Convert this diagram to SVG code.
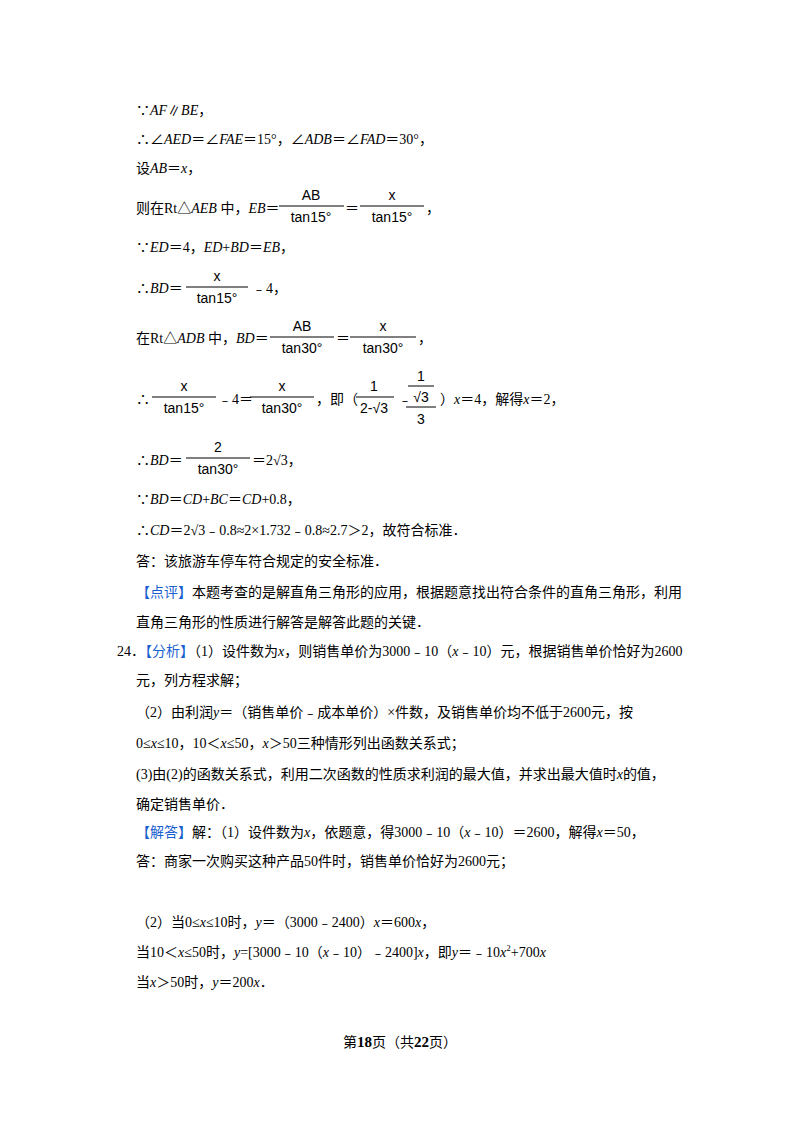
<svg xmlns="http://www.w3.org/2000/svg" width="800" height="1132" viewBox="0 0 800 1132">
<style>
text{font-family:"Liberation Serif","Noto Sans CJK SC",serif;font-size:14px;fill:#000}
.i{font-style:italic}
.b{fill:#1a5fd0}
.f{text-anchor:middle;font-family:"Liberation Sans",sans-serif;font-size:14px}
line{stroke:#000;stroke-width:1}
</style>
<rect width="800" height="1132" fill="#fff"/>
<g id="text">
<text x="136" y="115">∵<tspan class="i">AF</tspan>∥<tspan class="i">BE</tspan>，</text>
<text x="136" y="144">∴∠<tspan class="i">AED</tspan>＝∠<tspan class="i">FAE</tspan>＝15°，∠<tspan class="i">ADB</tspan>＝∠<tspan class="i">FAD</tspan>＝30°，</text>
<text x="136" y="173">设<tspan class="i">AB</tspan>＝<tspan class="i">x</tspan>，</text>
<text x="136" y="213">则在Rt△<tspan class="i">AEB</tspan> 中，<tspan class="i">EB</tspan>＝</text>
<text class="f" x="311" y="200">AB</text><line x1="279" y1="206" x2="344" y2="206"/><text class="f" x="311" y="222">tan15°</text>
<text x="345" y="213">＝</text>
<text class="f" x="392" y="200">x</text><line x1="360" y1="206" x2="424" y2="206"/><text class="f" x="392" y="222">tan15°</text>
<text x="426" y="213">，</text>
<text x="136" y="252">∵<tspan class="i">ED</tspan>＝4，<tspan class="i">ED</tspan>+<tspan class="i">BD</tspan>＝<tspan class="i">EB</tspan>，</text>
<text x="136" y="293">∴<tspan class="i">BD</tspan>＝</text>
<text class="f" x="217" y="281">x</text><line x1="186" y1="287" x2="248" y2="287"/><text class="f" x="217" y="303">tan15°</text>
<text x="252" y="293">﹣4，</text>
<text x="136" y="343">在Rt△<tspan class="i">ADB</tspan> 中，<tspan class="i">BD</tspan>＝</text>
<text class="f" x="302" y="331">AB</text><line x1="270" y1="337" x2="334" y2="337"/><text class="f" x="302" y="353">tan30°</text>
<text x="336" y="343">＝</text>
<text class="f" x="383" y="331">x</text><line x1="350" y1="337" x2="416" y2="337"/><text class="f" x="383" y="353">tan30°</text>
<text x="418" y="343">，</text>
<text x="136" y="404">∴</text>
<text class="f" x="184" y="391">x</text><line x1="152" y1="397" x2="216" y2="397"/><text class="f" x="184" y="413">tan15°</text>
<text x="218" y="404">﹣4＝</text>
<text class="f" x="282" y="391">x</text><line x1="250" y1="397" x2="314" y2="397"/><text class="f" x="282" y="413">tan30°</text>
<text x="316" y="404">，即（</text>
<text class="f" x="374" y="391">1</text><line x1="356" y1="397" x2="394" y2="397"/><text class="f" x="374" y="413">2-√3</text>
<text x="398" y="404">﹣</text>
<text class="f" x="421" y="381">1</text><line x1="408" y1="386" x2="434" y2="386"/><text class="f" x="421" y="402">√3</text>
<line x1="406" y1="407" x2="436" y2="407"/><text class="f" x="421" y="424">3</text>
<text x="440" y="404">）<tspan class="i">x</tspan>＝4，解得<tspan class="i">x</tspan>＝2，</text>
<text x="136" y="465">∴<tspan class="i">BD</tspan>＝</text>
<text class="f" x="218" y="452">2</text><line x1="186" y1="458" x2="250" y2="458"/><text class="f" x="218" y="474">tan30°</text>
<text x="252" y="465">＝2√3，</text>
<text x="136" y="504">∵<tspan class="i">BD</tspan>＝<tspan class="i">CD</tspan>+<tspan class="i">BC</tspan>＝<tspan class="i">CD</tspan>+0.8，</text>
<text x="136" y="535">∴<tspan class="i">CD</tspan>＝2√3﹣0.8≈2×1.732﹣0.8≈2.7＞2，故符合标准．</text>
<text x="136" y="566">答：该旅游车停车符合规定的安全标准．</text>
<text x="136" y="597"><tspan class="b">【点评】</tspan>本题考查的是解直角三角形的应用，根据题意找出符合条件的直角三角形，利用</text>
<text x="136" y="627">直角三角形的性质进行解答是解答此题的关键．</text>
<text x="117" y="656">24．<tspan class="b">【分析】</tspan>（1）设件数为<tspan class="i">x</tspan>，则销售单价为3000﹣10（<tspan class="i">x</tspan>﹣10）元，根据销售单价恰好为2600</text>
<text x="136" y="685">元，列方程求解；</text>
<text x="136" y="717">（2）由利润<tspan class="i">y</tspan>＝（销售单价﹣成本单价）×件数，及销售单价均不低于2600元，按</text>
<text x="136" y="748">0≤<tspan class="i">x</tspan>≤10，10＜<tspan class="i">x</tspan>≤50，<tspan class="i">x</tspan>＞50三种情形列出函数关系式；</text>
<text x="136" y="779">(3)由(2)的函数关系式，利用二次函数的性质求利润的最大值，并求出最大值时<tspan class="i">x</tspan>的值，</text>
<text x="136" y="809">确定销售单价．</text>
<text x="136" y="837"><tspan class="b">【解答】</tspan>解：（1）设件数为<tspan class="i">x</tspan>，依题意，得3000﹣10（<tspan class="i">x</tspan>﹣10）＝2600，解得<tspan class="i">x</tspan>＝50，</text>
<text x="136" y="866">答：商家一次购买这种产品50件时，销售单价恰好为2600元；</text>
<text x="136" y="927">（2）当0≤<tspan class="i">x</tspan>≤10时，<tspan class="i">y</tspan>＝（3000﹣2400）<tspan class="i">x</tspan>＝600<tspan class="i">x</tspan>，</text>
<text x="136" y="957">当10＜<tspan class="i">x</tspan>≤50时，<tspan class="i">y</tspan>=[3000﹣10（<tspan class="i">x</tspan>﹣10）﹣2400]<tspan class="i">x</tspan>，即<tspan class="i">y</tspan>＝﹣10<tspan class="i">x</tspan><tspan font-size="9" dy="-6">2</tspan><tspan dy="6">+700</tspan><tspan class="i">x</tspan></text>
<text x="136" y="987">当<tspan class="i">x</tspan>＞50时，<tspan class="i">y</tspan>＝200<tspan class="i">x</tspan>．</text>
<text x="400" y="1047" text-anchor="middle" font-size="13">第<tspan font-weight="bold" font-size="15">18</tspan>页（共<tspan font-weight="bold" font-size="15">22</tspan>页）</text>
</g>
</svg>
